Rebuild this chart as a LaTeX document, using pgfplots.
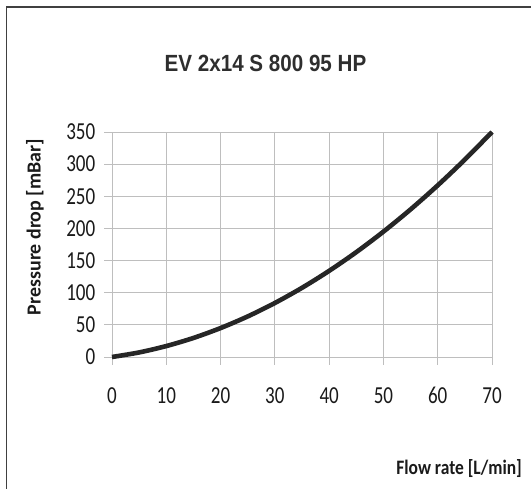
\documentclass[border=0pt]{standalone}
\usepackage{pgfplots}
\pgfplotsset{compat=1.18}
\usepackage{fontspec}
\setmainfont{Carlito}
\newfontfamily\titlefont{Liberation Sans}
\definecolor{curve}{HTML}{262626}
\definecolor{gridc}{HTML}{BEBEBE}
\definecolor{txt}{HTML}{1A1A1A}
\definecolor{ttl}{HTML}{2E2E2E}
\begin{document}
\begin{tikzpicture}[x=1bp,y=1bp]
\useasboundingbox (0,0) rectangle (531,489);
\draw[line width=1.6bp, color=black!75] (6.5,-20) -- (6.5,482) -- (560,482);
\begin{axis}[
  at={(112bp,132bp)}, anchor=south west,
  scale only axis, width=380bp, height=225bp,
  xmin=0, xmax=70, ymin=0, ymax=350,
  xtick={0,10,...,70}, ytick={0,50,...,350},
  grid=major, grid style={color=gridc, line width=0.9bp},
  axis x line*=bottom, axis y line*=left,
  axis line style={color=gridc, line width=0.9bp, -},
  tick style={color=gridc, line width=0.9bp},
  tick align=outside, major tick length=8bp,
  /pgf/number format/assume math mode=true,
  ticklabel style={font=\fontsize{24.5}{24.5}\selectfont, text=txt, xscale=0.78},
  yticklabel style={anchor=east, inner sep=0pt, xshift=-11bp},
  xticklabel style={anchor=north, inner sep=0pt, yshift=-22bp},
  clip=false,
]
\addplot[color=curve, line width=4.6bp, smooth] coordinates {
 (0,0) (5,7.1) (10,17) (15,29.6) (20,45) (25,63.1) (30,84) (35,107.6)
 (40,134) (45,163.1) (50,195) (55,229.6) (60,267) (65,307.1) (70,350)
};
\end{axis}
\node[anchor=base, font=\titlefont\bfseries\fontsize{23.5}{23.5}\selectfont, text=ttl, xscale=0.88, inner sep=0pt] at (265.5,417.3) {EV 2x14 S 800 95 HP};
\node[anchor=base, rotate=90, font=\bfseries\fontsize{20}{20}\selectfont, text=txt, inner sep=0pt] at (40.7,262) {Pressure drop [mBar]};
\node[anchor=base east, font=\bfseries\fontsize{20.6}{20.6}\selectfont, text=txt, xscale=0.85, inner sep=0pt] at (522,14) {Flow rate [L/min]};
\end{tikzpicture}
\end{document}
